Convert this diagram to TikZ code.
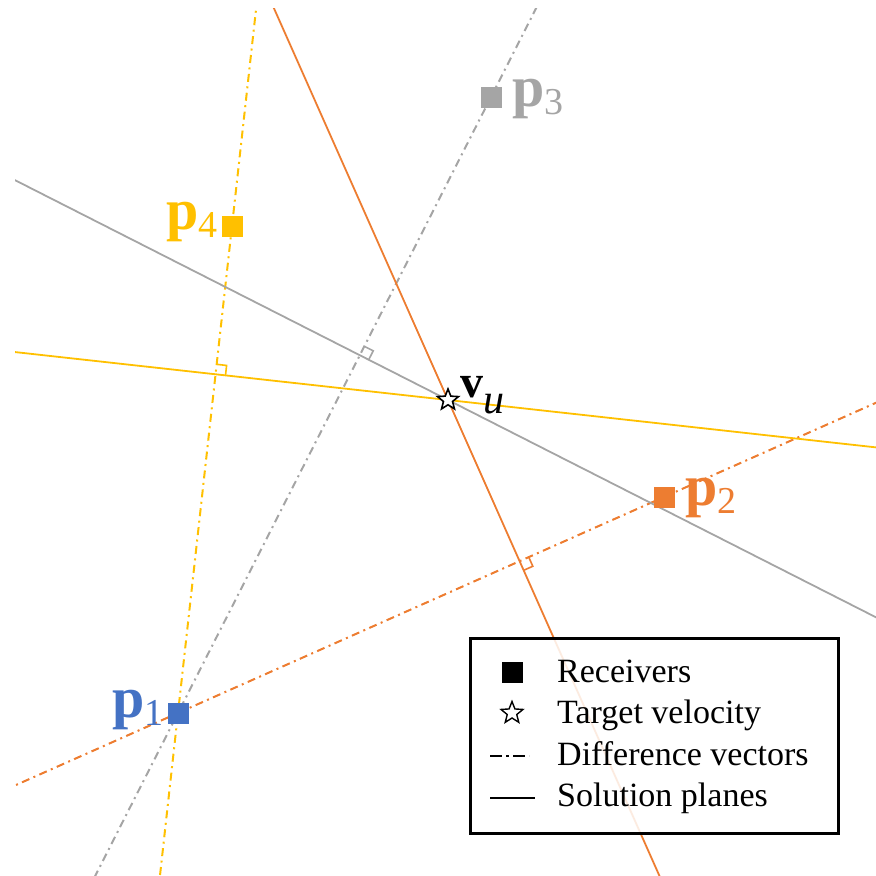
\documentclass[tikz,border=0pt]{standalone}
\usepackage{fontspec}
\setmainfont{Liberation Serif}
\usetikzlibrary{calc,shapes.geometric}
\definecolor{cblue}{HTML}{4472C4}
\definecolor{corange}{HTML}{ED7D31}
\definecolor{cgray}{HTML}{A5A5A5}
\definecolor{cyellow}{HTML}{FFC000}
\tikzset{
  diffvec/.style={line width=2pt, dash pattern=on 8pt off 4.5pt on 2pt off 4.5pt},
  solplane/.style={line width=1.8pt},
  rxbox/.style={rectangle, inner sep=0pt, minimum size=21pt},
  vstar/.style={star, star points=5, star point ratio=2.3, draw=black, fill=white, line width=1.6pt, inner sep=0pt, minimum size=22pt},
  plabel/.style={anchor=base west, inner sep=0pt},
  legtext/.style={anchor=base west, inner sep=0pt, font=\fontsize{34pt}{34pt}\selectfont},
  ramark/.style={line width=1.6pt}
}
\newcommand{\plab}[1]{{\fontsize{58pt}{58pt}\selectfont\bfseries p}\raisebox{-8pt}{\fontsize{38pt}{38pt}\selectfont #1}}
\begin{document}
\begin{tikzpicture}[x=1pt,y=-1pt]
\useasboundingbox (0,0) rectangle (876,876);
\coordinate (p1) at (178,713);
\coordinate (p2) at (664,497);
\coordinate (p3) at (491,97);
\coordinate (p4) at (232,226);
\coordinate (vu) at (448,400);
% feet of perpendiculars
\coordinate (f2) at ($(p1)!(vu)!(p2)$);
\coordinate (f3) at ($(p1)!(vu)!(p3)$);
\coordinate (f4) at ($(p1)!(vu)!(p4)$);
\begin{scope}
\clip (15,8) rectangle (880,880);
% difference vectors
\draw[diffvec, corange] ($(p1)!-2!(p2)$) coordinate (d2a) -- ($(p1)!3!(p2)$) coordinate (d2b);
\draw[diffvec, cgray] ($(p1)!-2!(p3)$) coordinate (d3a) -- ($(p1)!3!(p3)$) coordinate (d3b);
\draw[diffvec, cyellow] ($(p1)!-2!(p4)$) coordinate (d4a) -- ($(p1)!3!(p4)$) coordinate (d4b);
% solution planes
\draw[solplane, cgray] ($(vu)!-12!(f3)$) coordinate (s3a) -- ($(vu)!12!(f3)$) coordinate (s3b);
\draw[solplane, cyellow] ($(vu)!-6!(f4)$) coordinate (s4a) -- ($(vu)!6!(f4)$) coordinate (s4b);
\draw[solplane, corange] ($(vu)!-6!(f2)$) coordinate (s2a) -- ($(vu)!6!(f2)$) coordinate (s2b);
\end{scope}
% right angle marks
\foreach \f/\p/\c in {f2/p2/corange, f3/p3/cgray, f4/p4/cyellow}{
  \coordinate (ra-\f) at ($(\f)!10pt!(\p)$);
  \coordinate (rb-\f) at ($(\f)!10pt!-90:(\p)$);
  \draw[ramark, \c] (ra-\f) -- ($(ra-\f)+(rb-\f)-(\f)$) -- (rb-\f);
}
% receivers
\node[rxbox, fill=cblue] (r1) at (p1) {};
\node[rxbox, fill=corange] (r2) at (p2) {};
\node[rxbox, fill=cgray] (r3) at (p3) {};
\node[rxbox, fill=cyellow] (r4) at (p4) {};
% labels
\node[plabel, text=cblue] (l1) at (112,717) {\plab{1}};
\node[plabel, text=corange] (l2) at (685,505) {\plab{2}};
\node[plabel, text=cgray] (l3) at (512,106) {\plab{3}};
\node[plabel, text=cyellow] (l4) at (166,229) {\plab{4}};
% target velocity
\node[vstar] (star) at (vu) {};
\node[plabel] (vlab) at (460,397) {\fontsize{46pt}{46pt}\selectfont\textbf{v}\raisebox{-16pt}{\fontsize{42pt}{42pt}\selectfont\itshape u}};
% legend
\node[draw=black, line width=3pt, fill=white, fill opacity=0.85, text opacity=1, minimum width=368pt, minimum height=195pt, inner sep=0pt] (legend) at (654,735.5) {};
\node[rxbox, fill=black] (lsq) at (512,672) {};
\node[vstar, minimum size=23pt, line width=1.4pt] (lstar) at (512,713) {};
\coordinate (lda) at (490,756);
\coordinate (ldb) at (529,756);
\draw[line width=2pt, dash pattern=on 12pt off 4pt on 3pt off 4pt] (lda) -- (ldb);
\coordinate (lsa) at (490,798);
\coordinate (lsb) at (535,798);
\draw[line width=2pt] (lsa) -- (lsb);
\node[legtext] (t1) at (557,682) {Receivers};
\node[legtext] (t2) at (557,723) {Target velocity};
\node[legtext] (t3) at (557,765) {Difference vectors};
\node[legtext] (t4) at (557,806) {Solution planes};
\end{tikzpicture}
\end{document}
